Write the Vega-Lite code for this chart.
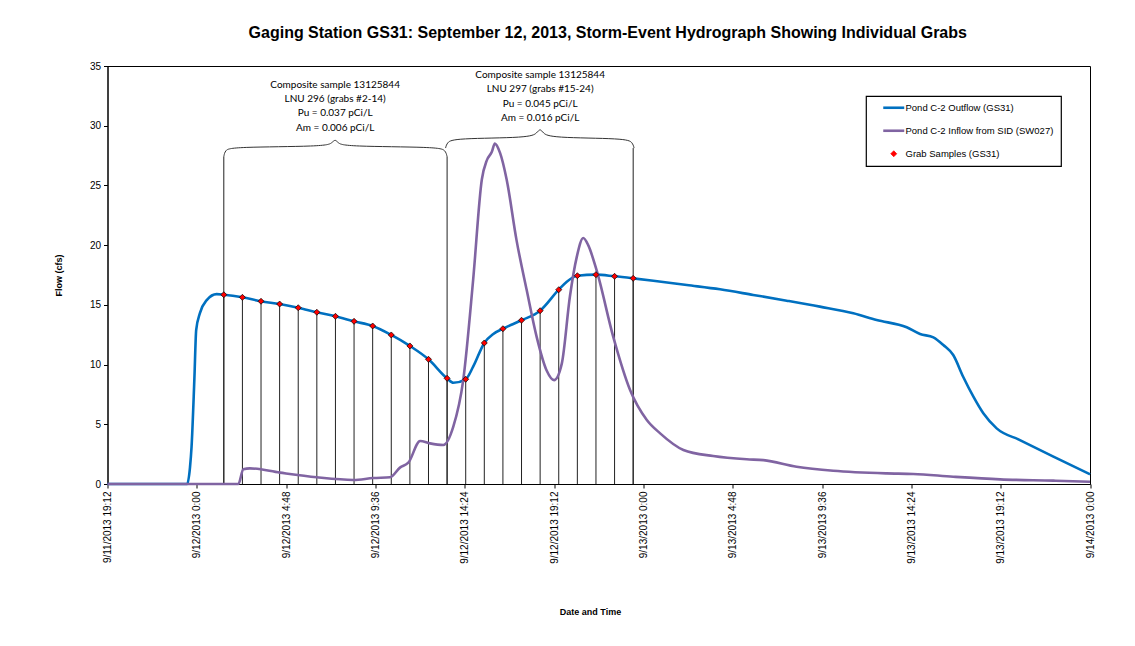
{
  "$schema": "https://vega.github.io/schema/vega-lite/v6.json",
  "autosize": "none",
  "width": 982.5,
  "height": 418,
  "padding": {"left": 107.5, "top": 66, "right": 45, "bottom": 162},
  "background": "white",
  "title": {
    "text": "Gaging Station GS31: September 12, 2013, Storm-Event Hydrograph Showing Individual Grabs",
    "anchor": "middle", "frame": "group", "dx": 9, "offset": 20,
    "font": "Liberation Sans", "fontSize": 16, "fontWeight": "bold", "color": "black"
  },
  "datasets": {
    "flows": [
      {"series": "Pond C-2 Outflow (GS31)", "time": "2013-09-11T19:12", "flow": 0},
      {"series": "Pond C-2 Outflow (GS31)", "time": "2013-09-11T23:29", "flow": 0},
      {"series": "Pond C-2 Outflow (GS31)", "time": "2013-09-11T23:38", "flow": 1.4},
      {"series": "Pond C-2 Outflow (GS31)", "time": "2013-09-11T23:43", "flow": 3.1},
      {"series": "Pond C-2 Outflow (GS31)", "time": "2013-09-11T23:52", "flow": 8.7},
      {"series": "Pond C-2 Outflow (GS31)", "time": "2013-09-11T23:58", "flow": 12.9},
      {"series": "Pond C-2 Outflow (GS31)", "time": "2013-09-12T00:10", "flow": 14.3},
      {"series": "Pond C-2 Outflow (GS31)", "time": "2013-09-12T00:32", "flow": 15.4},
      {"series": "Pond C-2 Outflow (GS31)", "time": "2013-09-12T01:04", "flow": 15.9},
      {"series": "Pond C-2 Outflow (GS31)", "time": "2013-09-12T01:27", "flow": 15.85},
      {"series": "Pond C-2 Outflow (GS31)", "time": "2013-09-12T02:27", "flow": 15.63},
      {"series": "Pond C-2 Outflow (GS31)", "time": "2013-09-12T03:27", "flow": 15.3},
      {"series": "Pond C-2 Outflow (GS31)", "time": "2013-09-12T04:27", "flow": 15.07},
      {"series": "Pond C-2 Outflow (GS31)", "time": "2013-09-12T05:27", "flow": 14.76},
      {"series": "Pond C-2 Outflow (GS31)", "time": "2013-09-12T06:27", "flow": 14.38},
      {"series": "Pond C-2 Outflow (GS31)", "time": "2013-09-12T07:27", "flow": 14.04},
      {"series": "Pond C-2 Outflow (GS31)", "time": "2013-09-12T08:27", "flow": 13.62},
      {"series": "Pond C-2 Outflow (GS31)", "time": "2013-09-12T09:27", "flow": 13.23},
      {"series": "Pond C-2 Outflow (GS31)", "time": "2013-09-12T10:27", "flow": 12.48},
      {"series": "Pond C-2 Outflow (GS31)", "time": "2013-09-12T11:27", "flow": 11.56},
      {"series": "Pond C-2 Outflow (GS31)", "time": "2013-09-12T12:27", "flow": 10.44},
      {"series": "Pond C-2 Outflow (GS31)", "time": "2013-09-12T13:27", "flow": 8.85},
      {"series": "Pond C-2 Outflow (GS31)", "time": "2013-09-12T13:47", "flow": 8.48},
      {"series": "Pond C-2 Outflow (GS31)", "time": "2013-09-12T14:27", "flow": 8.77},
      {"series": "Pond C-2 Outflow (GS31)", "time": "2013-09-12T14:51", "flow": 9.82},
      {"series": "Pond C-2 Outflow (GS31)", "time": "2013-09-12T15:27", "flow": 11.81},
      {"series": "Pond C-2 Outflow (GS31)", "time": "2013-09-12T15:56", "flow": 12.56},
      {"series": "Pond C-2 Outflow (GS31)", "time": "2013-09-12T16:27", "flow": 13.0},
      {"series": "Pond C-2 Outflow (GS31)", "time": "2013-09-12T17:27", "flow": 13.71},
      {"series": "Pond C-2 Outflow (GS31)", "time": "2013-09-12T18:27", "flow": 14.51},
      {"series": "Pond C-2 Outflow (GS31)", "time": "2013-09-12T19:27", "flow": 16.27},
      {"series": "Pond C-2 Outflow (GS31)", "time": "2013-09-12T19:53", "flow": 16.94},
      {"series": "Pond C-2 Outflow (GS31)", "time": "2013-09-12T20:27", "flow": 17.44},
      {"series": "Pond C-2 Outflow (GS31)", "time": "2013-09-12T21:27", "flow": 17.53},
      {"series": "Pond C-2 Outflow (GS31)", "time": "2013-09-12T22:27", "flow": 17.39},
      {"series": "Pond C-2 Outflow (GS31)", "time": "2013-09-12T23:27", "flow": 17.22},
      {"series": "Pond C-2 Outflow (GS31)", "time": "2013-09-13T00:32", "flow": 17.02},
      {"series": "Pond C-2 Outflow (GS31)", "time": "2013-09-13T02:20", "flow": 16.66},
      {"series": "Pond C-2 Outflow (GS31)", "time": "2013-09-13T04:07", "flow": 16.3},
      {"series": "Pond C-2 Outflow (GS31)", "time": "2013-09-13T05:54", "flow": 15.83},
      {"series": "Pond C-2 Outflow (GS31)", "time": "2013-09-13T07:42", "flow": 15.35},
      {"series": "Pond C-2 Outflow (GS31)", "time": "2013-09-13T09:29", "flow": 14.85},
      {"series": "Pond C-2 Outflow (GS31)", "time": "2013-09-13T11:17", "flow": 14.29},
      {"series": "Pond C-2 Outflow (GS31)", "time": "2013-09-13T12:32", "flow": 13.73},
      {"series": "Pond C-2 Outflow (GS31)", "time": "2013-09-13T14:09", "flow": 13.12},
      {"series": "Pond C-2 Outflow (GS31)", "time": "2013-09-13T14:52", "flow": 12.56},
      {"series": "Pond C-2 Outflow (GS31)", "time": "2013-09-13T15:35", "flow": 12.28},
      {"series": "Pond C-2 Outflow (GS31)", "time": "2013-09-13T16:07", "flow": 11.64},
      {"series": "Pond C-2 Outflow (GS31)", "time": "2013-09-13T16:39", "flow": 10.8},
      {"series": "Pond C-2 Outflow (GS31)", "time": "2013-09-13T17:11", "flow": 8.98},
      {"series": "Pond C-2 Outflow (GS31)", "time": "2013-09-13T17:44", "flow": 7.31},
      {"series": "Pond C-2 Outflow (GS31)", "time": "2013-09-13T18:16", "flow": 5.92},
      {"series": "Pond C-2 Outflow (GS31)", "time": "2013-09-13T18:59", "flow": 4.66},
      {"series": "Pond C-2 Outflow (GS31)", "time": "2013-09-13T20:14", "flow": 3.68},
      {"series": "Pond C-2 Outflow (GS31)", "time": "2013-09-13T22:02", "flow": 2.29},
      {"series": "Pond C-2 Outflow (GS31)", "time": "2013-09-14T00:00", "flow": 0.81},
      {"series": "Pond C-2 Inflow from SID (SW027)", "time": "2013-09-11T19:12", "flow": 0},
      {"series": "Pond C-2 Inflow from SID (SW027)", "time": "2013-09-12T02:14", "flow": 0},
      {"series": "Pond C-2 Inflow from SID (SW027)", "time": "2013-09-12T02:30", "flow": 1.23},
      {"series": "Pond C-2 Inflow from SID (SW027)", "time": "2013-09-12T02:51", "flow": 1.31},
      {"series": "Pond C-2 Inflow from SID (SW027)", "time": "2013-09-12T04:28", "flow": 0.95},
      {"series": "Pond C-2 Inflow from SID (SW027)", "time": "2013-09-12T06:27", "flow": 0.56},
      {"series": "Pond C-2 Inflow from SID (SW027)", "time": "2013-09-12T08:25", "flow": 0.34},
      {"series": "Pond C-2 Inflow from SID (SW027)", "time": "2013-09-12T09:29", "flow": 0.5},
      {"series": "Pond C-2 Inflow from SID (SW027)", "time": "2013-09-12T10:23", "flow": 0.56},
      {"series": "Pond C-2 Inflow from SID (SW027)", "time": "2013-09-12T10:55", "flow": 1.37},
      {"series": "Pond C-2 Inflow from SID (SW027)", "time": "2013-09-12T11:22", "flow": 1.78},
      {"series": "Pond C-2 Inflow from SID (SW027)", "time": "2013-09-12T12:00", "flow": 3.6},
      {"series": "Pond C-2 Inflow from SID (SW027)", "time": "2013-09-12T12:32", "flow": 3.4},
      {"series": "Pond C-2 Inflow from SID (SW027)", "time": "2013-09-12T13:15", "flow": 3.27},
      {"series": "Pond C-2 Inflow from SID (SW027)", "time": "2013-09-12T13:47", "flow": 4.8},
      {"series": "Pond C-2 Inflow from SID (SW027)", "time": "2013-09-12T14:19", "flow": 8.7},
      {"series": "Pond C-2 Inflow from SID (SW027)", "time": "2013-09-12T14:51", "flow": 17.1},
      {"series": "Pond C-2 Inflow from SID (SW027)", "time": "2013-09-12T15:19", "flow": 25.5},
      {"series": "Pond C-2 Inflow from SID (SW027)", "time": "2013-09-12T15:35", "flow": 27.1},
      {"series": "Pond C-2 Inflow from SID (SW027)", "time": "2013-09-12T15:51", "flow": 27.8},
      {"series": "Pond C-2 Inflow from SID (SW027)", "time": "2013-09-12T16:01", "flow": 28.5},
      {"series": "Pond C-2 Inflow from SID (SW027)", "time": "2013-09-12T16:18", "flow": 27.7},
      {"series": "Pond C-2 Inflow from SID (SW027)", "time": "2013-09-12T16:39", "flow": 25.5},
      {"series": "Pond C-2 Inflow from SID (SW027)", "time": "2013-09-12T17:11", "flow": 20.4},
      {"series": "Pond C-2 Inflow from SID (SW027)", "time": "2013-09-12T17:44", "flow": 16.2},
      {"series": "Pond C-2 Inflow from SID (SW027)", "time": "2013-09-12T18:16", "flow": 12.3},
      {"series": "Pond C-2 Inflow from SID (SW027)", "time": "2013-09-12T18:48", "flow": 9.5},
      {"series": "Pond C-2 Inflow from SID (SW027)", "time": "2013-09-12T19:12", "flow": 8.7},
      {"series": "Pond C-2 Inflow from SID (SW027)", "time": "2013-09-12T19:37", "flow": 10.1},
      {"series": "Pond C-2 Inflow from SID (SW027)", "time": "2013-09-12T20:03", "flow": 15.7},
      {"series": "Pond C-2 Inflow from SID (SW027)", "time": "2013-09-12T20:25", "flow": 19.0},
      {"series": "Pond C-2 Inflow from SID (SW027)", "time": "2013-09-12T20:46", "flow": 20.6},
      {"series": "Pond C-2 Inflow from SID (SW027)", "time": "2013-09-12T21:02", "flow": 20.0},
      {"series": "Pond C-2 Inflow from SID (SW027)", "time": "2013-09-12T21:29", "flow": 17.9},
      {"series": "Pond C-2 Inflow from SID (SW027)", "time": "2013-09-12T22:23", "flow": 12.3},
      {"series": "Pond C-2 Inflow from SID (SW027)", "time": "2013-09-12T23:17", "flow": 7.87},
      {"series": "Pond C-2 Inflow from SID (SW027)", "time": "2013-09-13T00:11", "flow": 5.36},
      {"series": "Pond C-2 Inflow from SID (SW027)", "time": "2013-09-13T00:54", "flow": 4.24},
      {"series": "Pond C-2 Inflow from SID (SW027)", "time": "2013-09-13T02:09", "flow": 2.85},
      {"series": "Pond C-2 Inflow from SID (SW027)", "time": "2013-09-13T03:45", "flow": 2.34},
      {"series": "Pond C-2 Inflow from SID (SW027)", "time": "2013-09-13T05:33", "flow": 2.07},
      {"series": "Pond C-2 Inflow from SID (SW027)", "time": "2013-09-13T06:27", "flow": 2.0},
      {"series": "Pond C-2 Inflow from SID (SW027)", "time": "2013-09-13T08:14", "flow": 1.45},
      {"series": "Pond C-2 Inflow from SID (SW027)", "time": "2013-09-13T10:12", "flow": 1.11},
      {"series": "Pond C-2 Inflow from SID (SW027)", "time": "2013-09-13T13:04", "flow": 0.89},
      {"series": "Pond C-2 Inflow from SID (SW027)", "time": "2013-09-13T14:30", "flow": 0.84},
      {"series": "Pond C-2 Inflow from SID (SW027)", "time": "2013-09-13T16:39", "flow": 0.61},
      {"series": "Pond C-2 Inflow from SID (SW027)", "time": "2013-09-13T19:10", "flow": 0.39},
      {"series": "Pond C-2 Inflow from SID (SW027)", "time": "2013-09-13T22:02", "flow": 0.28},
      {"series": "Pond C-2 Inflow from SID (SW027)", "time": "2013-09-14T00:00", "flow": 0.19}
    ],
    "grabs": [
      {"grab": 2, "time": "2013-09-12T01:27", "flow": 15.85},
      {"grab": 3, "time": "2013-09-12T02:27", "flow": 15.63},
      {"grab": 4, "time": "2013-09-12T03:27", "flow": 15.3},
      {"grab": 5, "time": "2013-09-12T04:27", "flow": 15.07},
      {"grab": 6, "time": "2013-09-12T05:27", "flow": 14.76},
      {"grab": 7, "time": "2013-09-12T06:27", "flow": 14.38},
      {"grab": 8, "time": "2013-09-12T07:27", "flow": 14.04},
      {"grab": 9, "time": "2013-09-12T08:27", "flow": 13.62},
      {"grab": 10, "time": "2013-09-12T09:27", "flow": 13.23},
      {"grab": 11, "time": "2013-09-12T10:27", "flow": 12.48},
      {"grab": 12, "time": "2013-09-12T11:27", "flow": 11.56},
      {"grab": 13, "time": "2013-09-12T12:27", "flow": 10.44},
      {"grab": 14, "time": "2013-09-12T13:27", "flow": 8.85},
      {"grab": 15, "time": "2013-09-12T14:27", "flow": 8.77},
      {"grab": 16, "time": "2013-09-12T15:27", "flow": 11.81},
      {"grab": 17, "time": "2013-09-12T16:27", "flow": 13.0},
      {"grab": 18, "time": "2013-09-12T17:27", "flow": 13.71},
      {"grab": 19, "time": "2013-09-12T18:27", "flow": 14.51},
      {"grab": 20, "time": "2013-09-12T19:27", "flow": 16.27},
      {"grab": 21, "time": "2013-09-12T20:27", "flow": 17.44},
      {"grab": 22, "time": "2013-09-12T21:27", "flow": 17.53},
      {"grab": 23, "time": "2013-09-12T22:27", "flow": 17.39},
      {"grab": 24, "time": "2013-09-12T23:27", "flow": 17.22}
    ],
    "tall": [
      {"time": "2013-09-12T01:27", "flow": 27.4},
      {"time": "2013-09-12T13:27", "flow": 27.4},
      {"time": "2013-09-12T23:27", "flow": 28.13}
    ],
    "brackets": [
      {"bracket": "A", "time": "2013-09-12T01:27", "flow": 27.4},
      {"bracket": "A", "time": "2013-09-12T01:31", "flow": 27.95},
      {"bracket": "A", "time": "2013-09-12T01:53", "flow": 28.22},
      {"bracket": "A", "time": "2013-09-12T06:53", "flow": 28.26},
      {"bracket": "A", "time": "2013-09-12T07:16", "flow": 28.55},
      {"bracket": "A", "time": "2013-09-12T07:26", "flow": 28.89},
      {"bracket": "A", "time": "2013-09-12T07:35", "flow": 28.55},
      {"bracket": "A", "time": "2013-09-12T07:58", "flow": 28.26},
      {"bracket": "A", "time": "2013-09-12T12:58", "flow": 28.22},
      {"bracket": "A", "time": "2013-09-12T13:22", "flow": 27.95},
      {"bracket": "A", "time": "2013-09-12T13:27", "flow": 27.4},
      {"bracket": "B", "time": "2013-09-12T13:22", "flow": 28.13},
      {"bracket": "B", "time": "2013-09-12T13:27", "flow": 28.6},
      {"bracket": "B", "time": "2013-09-12T13:49", "flow": 28.95},
      {"bracket": "B", "time": "2013-09-12T17:54", "flow": 28.98},
      {"bracket": "B", "time": "2013-09-12T18:17", "flow": 29.4},
      {"bracket": "B", "time": "2013-09-12T18:27", "flow": 29.78},
      {"bracket": "B", "time": "2013-09-12T18:36", "flow": 29.4},
      {"bracket": "B", "time": "2013-09-12T18:59", "flow": 28.98},
      {"bracket": "B", "time": "2013-09-12T23:04", "flow": 28.95},
      {"bracket": "B", "time": "2013-09-12T23:25", "flow": 28.6},
      {"bracket": "B", "time": "2013-09-12T23:30", "flow": 28.13}
    ],
    "notes": [
      {"time": "2013-09-12T07:26", "flow": 33.41, "text": "Composite sample 13125844"},
      {"time": "2013-09-12T07:26", "flow": 32.21, "text": "LNU 296 (grabs  #2-14)"},
      {"time": "2013-09-12T07:26", "flow": 31.04, "text": "Pu = 0.037 pCi/L"},
      {"time": "2013-09-12T07:26", "flow": 29.83, "text": "Am = 0.006 pCi/L"},
      {"time": "2013-09-12T18:27", "flow": 34.25, "text": "Composite sample 13125844"},
      {"time": "2013-09-12T18:27", "flow": 33.07, "text": "LNU 297 (grabs  #15-24)"},
      {"time": "2013-09-12T18:27", "flow": 31.84, "text": "Pu = 0.045 pCi/L"},
      {"time": "2013-09-12T18:27", "flow": 30.65, "text": "Am = 0.016 pCi/L"}
    ]
  },
  "encoding": {
    "x": {
      "field": "time", "type": "temporal",
      "scale": {
        "domain": [
          {"year": 2013, "month": 9, "date": 11, "hours": 19, "minutes": 12},
          {"year": 2013, "month": 9, "date": 14, "hours": 0, "minutes": 0}
        ]
      },
      "axis": {
        "title": "Date and Time",
        "values": [
          {"year": 2013, "month": 9, "date": 11, "hours": 19, "minutes": 12},
          {"year": 2013, "month": 9, "date": 12, "hours": 0, "minutes": 0},
          {"year": 2013, "month": 9, "date": 12, "hours": 4, "minutes": 48},
          {"year": 2013, "month": 9, "date": 12, "hours": 9, "minutes": 36},
          {"year": 2013, "month": 9, "date": 12, "hours": 14, "minutes": 24},
          {"year": 2013, "month": 9, "date": 12, "hours": 19, "minutes": 12},
          {"year": 2013, "month": 9, "date": 13, "hours": 0, "minutes": 0},
          {"year": 2013, "month": 9, "date": 13, "hours": 4, "minutes": 48},
          {"year": 2013, "month": 9, "date": 13, "hours": 9, "minutes": 36},
          {"year": 2013, "month": 9, "date": 13, "hours": 14, "minutes": 24},
          {"year": 2013, "month": 9, "date": 13, "hours": 19, "minutes": 12},
          {"year": 2013, "month": 9, "date": 14, "hours": 0, "minutes": 0}
        ],
        "format": "%-m/%-d/%Y %-H:%M",
        "labelAngle": 270,
        "labelAlign": "right",
        "labelBaseline": "middle",
        "labelFontSize": 10,
        "labelPadding": 3,
        "labelOverlap": false,
        "tickSize": 4,
        "grid": false,
        "titleX": 482.5,
        "titleY": 127,
        "titleBaseline": "middle",
        "titleAlign": "center"
      }
    },
    "y": {
      "field": "flow", "type": "quantitative",
      "scale": {"domain": [0, 35], "nice": false, "zero": true},
      "axis": {
        "title": "Flow (cfs)",
        "values": [0, 5, 10, 15, 20, 25, 30, 35],
        "labelFontSize": 10,
        "labelPadding": 3,
        "tickSize": 4,
        "grid": false,
        "titleX": -49.5,
        "titleY": 209,
        "titleAngle": 270,
        "titleBaseline": "middle",
        "titleAlign": "center"
      }
    }
  },
  "layer": [
    {
      "data": {"name": "grabs"},
      "mark": {"type": "rule", "color": "#222222", "strokeWidth": 1},
      "encoding": {"y2": {"datum": 0}}
    },
    {
      "data": {"name": "tall"},
      "mark": {"type": "rule", "color": "#222222", "strokeWidth": 1},
      "encoding": {"y2": {"datum": 0}}
    },
    {
      "data": {"name": "brackets"},
      "mark": {"type": "line", "color": "#333333", "strokeWidth": 1, "interpolate": "basis"},
      "encoding": {"detail": {"field": "bracket", "type": "nominal"}}
    },
    {
      "data": {"name": "flows"},
      "mark": {"type": "line", "strokeWidth": 2.6, "interpolate": "monotone"},
      "encoding": {
        "color": {
          "field": "series", "type": "nominal",
          "scale": {
            "domain": ["Pond C-2 Outflow (GS31)", "Pond C-2 Inflow from SID (SW027)", "Grab Samples (GS31)"],
            "range": ["#0070C0", "#8064A2", "#FF0000"]
          },
          "legend": {
            "title": null,
            "orient": "none",
            "legendX": 758.5,
            "legendY": 30,
            "padding": 7,
            "symbolOffset": 16,
            "symbolSize": 100,
            "rowPadding": 12,
            "labelOffset": 7,
            "labelFont": "Liberation Sans",
            "labelFontSize": 9.5,
            "labelColor": "black",
            "labelLimit": 300,
            "strokeColor": "black",
            "fillColor": "white",
            "encode": {
              "legend": {"update": {"strokeWidth": {"value": 1.2}}},
              "symbols": {
                "update": {
                  "shape": {"signal": "datum.value === 'Grab Samples (GS31)' ? 'diamond' : 'stroke'"},
                  "size": {"signal": "datum.value === 'Grab Samples (GS31)' ? 36 : 441"},
                  "stroke": {"signal": "datum.value === 'Grab Samples (GS31)' ? 'black' : (datum.value === 'Pond C-2 Outflow (GS31)' ? '#0070C0' : '#8064A2')"},
                  "strokeWidth": {"signal": "datum.value === 'Grab Samples (GS31)' ? 0.7 : 2.6"},
                  "fill": {"signal": "datum.value === 'Grab Samples (GS31)' ? '#FF0000' : 'transparent'"},
                  "opacity": {"value": 1},
                  "fillOpacity": {"value": 1}
                }
              }
            }
          }
        }
      }
    },
    {
      "data": {"name": "grabs"},
      "mark": {"type": "point", "shape": "diamond", "filled": true, "size": 36, "stroke": "black", "strokeWidth": 0.7, "opacity": 1},
      "encoding": {
        "color": {"datum": "Grab Samples (GS31)", "type": "nominal"}
      }
    },
    {
      "data": {"name": "notes"},
      "mark": {"type": "text", "font": "Lato", "fontSize": 10, "color": "black", "align": "center", "baseline": "middle"},
      "encoding": {"text": {"field": "text", "type": "nominal"}}
    }
  ],
  "config": {
    "font": "Liberation Sans",
    "view": {"stroke": "black", "strokeWidth": 1},
    "axis": {
      "domainColor": "black",
      "tickColor": "black",
      "labelColor": "black",
      "labelFont": "Liberation Sans",
      "titleFont": "Liberation Sans",
      "titleFontSize": 9,
      "titleFontWeight": "bold",
      "titleColor": "black"
    }
  }
}
